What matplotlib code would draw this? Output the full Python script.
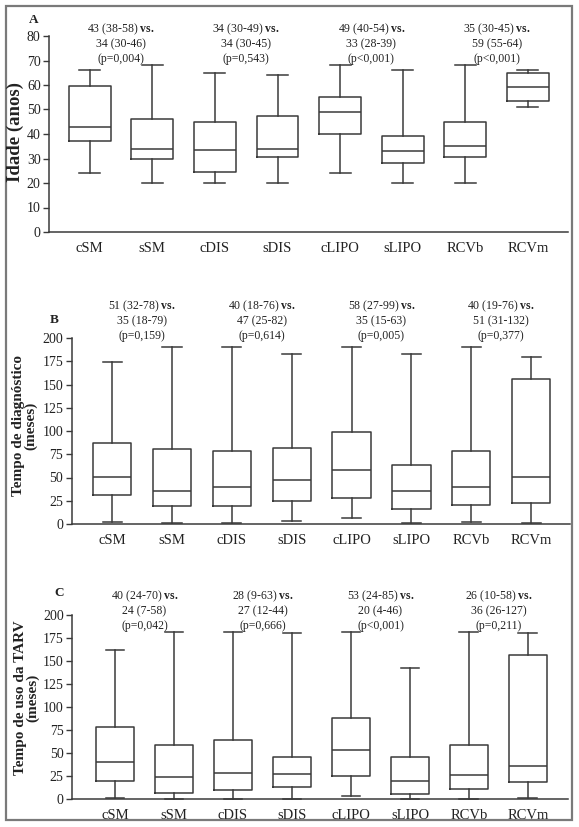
import matplotlib
matplotlib.use("Agg")
import matplotlib.pyplot as plt
from matplotlib.patches import Rectangle
from matplotlib.transforms import blended_transform_factory

plt.rcParams['font.family'] = ['Liberation Serif', 'DejaVu Serif']
plt.rcParams['mathtext.fontset'] = 'custom'
plt.rcParams['mathtext.rm'] = 'Liberation Serif'
plt.rcParams['mathtext.bf'] = 'Liberation Serif:bold'

categories = ['cSM', 'sSM', 'cDIS', 'sDIS', 'cLIPO', 'sLIPO', 'RCVb', 'RCVm']

# Panel A - Idade (anos)
a_low = [24, 20, 20, 20, 24, 20, 20, 51]
a_q1 = [37, 30, 24.5, 30.5, 40, 28, 30.5, 53.5]
a_med = [43, 34, 33.5, 34, 49, 33, 35, 59]
a_q3 = [59.5, 46, 45, 47.5, 55, 39, 45, 65]
a_high = [66, 68, 65, 64, 68, 66, 68, 66]
a_notes = ['43 (38-58) $\\mathbf{vs.}$\n34 (30-46)\n(p=0,004)',
           '34 (30-49) $\\mathbf{vs.}$\n34 (30-45)\n(p=0,543)',
           '49 (40-54) $\\mathbf{vs.}$\n33 (28-39)\n(p<0,001)',
           '35 (30-45) $\\mathbf{vs.}$\n59 (55-64)\n(p<0,001)']

# Panel B - Tempo de diagnóstico (meses)
b_low = [2, 1, 1, 3, 6, 1, 2, 1]
b_q1 = [31, 19, 19, 25, 28, 16, 20, 23]
b_med = [51, 35, 40, 47, 58, 35, 40, 51]
b_q3 = [87, 81, 78, 82, 99, 63, 78, 156]
b_high = [174, 190, 190, 183, 190, 183, 190, 180]
b_notes = ['51 (32-78) $\\mathbf{vs.}$\n35 (18-79)\n(p=0,159)',
           '40 (18-76) $\\mathbf{vs.}$\n47 (25-82)\n(p=0,614)',
           '58 (27-99) $\\mathbf{vs.}$\n35 (15-63)\n(p=0,005)',
           '40 (19-76) $\\mathbf{vs.}$\n51 (31-132)\n(p=0,377)']

# Panel C - Tempo de uso da TARV (meses)
c_low = [1, 0, 0, 0, 3, 0, 0, 1]
c_q1 = [20, 7, 10, 13, 25, 5, 11, 18]
c_med = [40, 24, 28, 27, 53, 20, 26, 36]
c_q3 = [78, 59, 64, 46, 88, 46, 59, 156]
c_high = [162, 181, 181, 180, 181, 142, 181, 180]
c_notes = ['40 (24-70) $\\mathbf{vs.}$\n24 (7-58)\n(p=0,042)',
           '28 (9-63) $\\mathbf{vs.}$\n27 (12-44)\n(p=0,666)',
           '53 (24-85) $\\mathbf{vs.}$\n20 (4-46)\n(p<0,001)',
           '26 (10-58) $\\mathbf{vs.}$\n36 (26-127)\n(p=0,211)']

W, H = 579, 827
fig = plt.figure(figsize=(W / 100, H / 100), dpi=100)
fig.patch.set_facecolor('white')

lc = '#3a3a3a'

def fx(px):
    return px / W

def fy(py):
    return (H - py) / H

panels = [
    dict(rect=(49, 568, 232, 36), low=a_low, q1=a_q1, med=a_med, q3=a_q3, high=a_high,
         notes=a_notes, ylim=(0, 80), yticks=[0, 10, 20, 30, 40, 50, 60, 70, 80],
         xlim=(-0.65, 7.64), width=0.67, letter='A', letter_xy=(34, 20),
         note_y=43, ylabel='Idade (anos)', ylabel_xy=(15, 132), ylabel_size=13.5),
    dict(rect=(71.5, 570, 524, 338), low=b_low, q1=b_q1, med=b_med, q3=b_q3, high=b_high,
         notes=b_notes, ylim=(0, 200), yticks=[0, 25, 50, 75, 100, 125, 150, 175, 200],
         xlim=(-0.68, 7.65), width=0.64, letter='B', letter_xy=(54, 320),
         note_y=320, ylabel='Tempo de diagnóstico\n(meses)', ylabel_xy=(25, 426), ylabel_size=11),
    dict(rect=(72, 568, 799, 615), low=c_low, q1=c_q1, med=c_med, q3=c_q3, high=c_high,
         notes=c_notes, ylim=(0, 200), yticks=[0, 25, 50, 75, 100, 125, 150, 175, 200],
         xlim=(-0.73, 7.68), width=0.64, letter='C', letter_xy=(59, 593),
         note_y=610, ylabel='Tempo de uso da TARV\n(meses)', ylabel_xy=(27, 698), ylabel_size=11),
]

for p in panels:
    l, r, b, t = p['rect']
    ax = fig.add_axes([fx(l), fy(b), fx(r) - fx(l), fy(t) - fy(b)])
    stats = []
    for i, name in enumerate(categories):
        stats.append(dict(label=name, whislo=p['low'][i], q1=p['q1'][i], med=p['med'][i],
                          q3=p['q3'][i], whishi=p['high'][i], fliers=[]))
    pos = list(range(len(categories)))
    ax.bxp(stats, positions=pos, widths=p['width'], showfliers=False,
           boxprops=dict(color=lc, linewidth=1.1),
           medianprops=dict(color=lc, linewidth=1.1),
           whiskerprops=dict(color=lc, linewidth=1.1),
           capprops=dict(color=lc, linewidth=1.1))
    for art in ax.lines:
        art.set_clip_on(False)
    ax.set_xlim(*p['xlim'])
    ax.set_ylim(*p['ylim'])
    ax.set_yticks(p['yticks'])
    ax.set_xticks(pos)
    ax.set_xticklabels(categories, fontsize=10.5)
    ax.tick_params(axis='x', length=0, pad=7, colors='#222222')
    ax.tick_params(axis='y', length=4, width=1, pad=2, labelsize=10, color=lc, labelcolor='#222222')
    for s in ['top', 'right']:
        ax.spines[s].set_visible(False)
    for s in ['left', 'bottom']:
        ax.spines[s].set_color(lc)
        ax.spines[s].set_linewidth(1.1)
    trans = blended_transform_factory(ax.transData, fig.transFigure)
    for k, note in enumerate(p['notes']):
        ax.text(2 * k + 0.5, fy(p['note_y']), note, transform=trans, ha='center', va='center',
                multialignment='center', fontsize=8.5, color='#222222', linespacing=1.2,
                clip_on=False)
    fig.text(fx(p['letter_xy'][0]), fy(p['letter_xy'][1]), p['letter'], ha='center', va='center',
             fontsize=9.5, fontweight='bold', color='#222222')
    fig.text(fx(p['ylabel_xy'][0]), fy(p['ylabel_xy'][1]), p['ylabel'], rotation=90,
             ha='center', va='center', multialignment='center', fontsize=p['ylabel_size'],
             fontweight='bold', color='#222222', linespacing=0.88)

# outer frame
fig.patches.append(Rectangle((fx(6), fy(820)), fx(572) - fx(6), fy(6) - fy(820),
                             transform=fig.transFigure, fill=False, edgecolor='#7a7a7a',
                             linewidth=1.6))

fig.savefig('out.png', dpi=100)
